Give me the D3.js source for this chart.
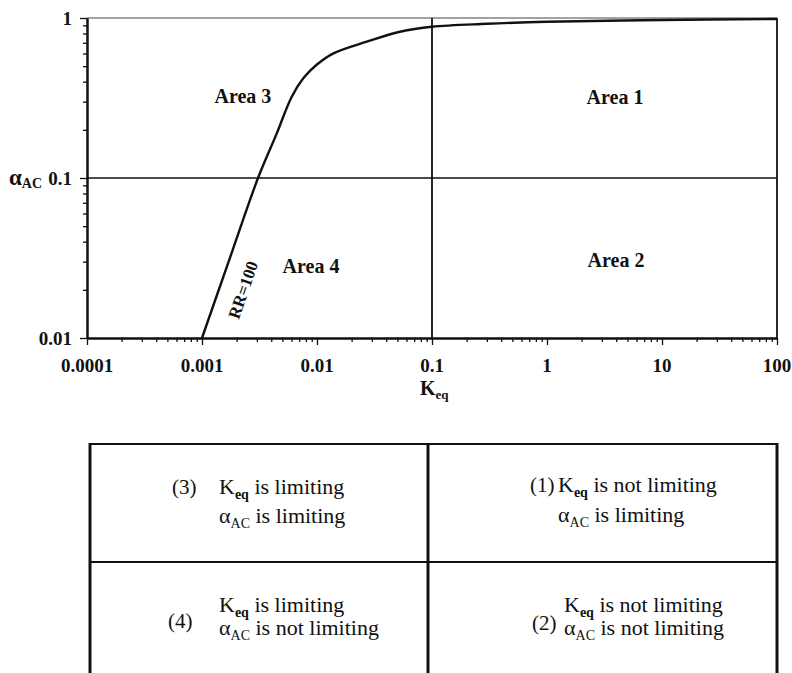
<!DOCTYPE html>
<html>
<head>
<meta charset="utf-8">
<script src="https://cdn.jsdelivr.net/npm/d3@7/dist/d3.min.js"></script>
<style>
  html, body { margin: 0; padding: 0; background: #fff; }
  svg { display: block; }
  text { font-family: "Liberation Serif", "Times New Roman", serif; fill: #111; }
</style>
</head>
<body>
<svg id="chart" width="792" height="673"></svg>
<script>
// RR = 100 boundary: equilibrium constant vs. relative volatility alpha_AC
const curveK = [0.001, 0.00175, 0.00307, 0.00447, 0.0060, 0.0076, 0.00993, 0.0139, 0.0271, 0.0527, 0.1, 0.3, 1, 10, 100];
const curveAlpha = [0.01, 0.0317, 0.1, 0.19, 0.32, 0.42, 0.51, 0.601, 0.711, 0.821, 0.882, 0.92, 0.948, 0.972, 0.985];

// axis ticks
const xMajor = [0.0001, 0.001, 0.01, 0.1, 1, 10, 100];
const xMajorLabels = ["0.0001", "0.001", "0.01", "0.1", "1", "10", "100"];
const yMajor = [0.01, 0.1, 1];
const yMajorLabels = ["0.01", "0.1", "1"];

// dividing lines between the four areas
const kSplit = 0.1;
const alphaSplit = 0.1;

// area labels, placed in data coordinates (baseline)
const areaNames = ["Area 3", "Area 1", "Area 4", "Area 2"];
const areaK = [0.00227, 3.9, 0.00887, 3.98];
const areaAlpha = [0.294, 0.29, 0.0255, 0.0278];

// curve label position
const curveLabelK = 0.00227;
const curveLabelAlpha = 0.02;

// summary table (row-major: top-left, top-right, bottom-left, bottom-right)
const cellNums = ["(3)", "(1)", "(4)", "(2)"];
const cellKeq = ["is limiting", "is not limiting", "is limiting", "is not limiting"];
const cellAlpha = ["is limiting", "is limiting", "is not limiting", "is not limiting"];

const svg = d3.select("#chart");

const x = d3.scaleLog().domain([1e-4, 100]).range([87, 777]);
const y = d3.scaleLog().domain([0.01, 1]).range([338, 18]);

// minor tick values (2..9 of each decade)
const minorX = [];
for (let e = -4; e < 2; e++) for (let m = 2; m <= 9; m++) minorX.push(m * Math.pow(10, e));
const minorY = [];
for (let e = -2; e < 0; e++) for (let m = 2; m <= 9; m++) minorY.push(m * Math.pow(10, e));

const plot = svg.append("g");

// frame: top and right border
plot.append("line").attr("x1", x(1e-4)).attr("x2", x(100)).attr("y1", y(1)).attr("y2", y(1))
  .attr("stroke", "#444").attr("stroke-width", 1.2);
plot.append("line").attr("x1", x(100)).attr("x2", x(100)).attr("y1", y(1)).attr("y2", y(0.01))
  .attr("stroke", "#111").attr("stroke-width", 1.8);

// dividing lines
plot.append("line").attr("x1", x(1e-4)).attr("x2", x(100)).attr("y1", y(alphaSplit)).attr("y2", y(alphaSplit))
  .attr("stroke", "#111").attr("stroke-width", 1.5);
plot.append("line").attr("x1", x(kSplit)).attr("x2", x(kSplit)).attr("y1", y(1)).attr("y2", y(0.01))
  .attr("stroke", "#111").attr("stroke-width", 1.8);

// axes
function styleAxis(g) {
  g.select(".domain").attr("stroke", "#111").attr("stroke-width", 2);
  g.selectAll(".tick line").attr("stroke", "#111").attr("stroke-width", 1.3);
  g.selectAll(".tick text").remove();
}
const xMinorG = plot.append("g").attr("transform", `translate(0,${y(0.01)})`)
  .call(d3.axisBottom(x).tickValues(minorX).tickSize(4).tickSizeOuter(0));
styleAxis(xMinorG);
const xMajorG = plot.append("g").attr("transform", `translate(0,${y(0.01)})`)
  .call(d3.axisBottom(x).tickValues(xMajor).tickSize(7).tickSizeOuter(0));
styleAxis(xMajorG);
const yMinorG = plot.append("g").attr("transform", `translate(${x(1e-4)},0)`)
  .call(d3.axisLeft(y).tickValues(minorY).tickSize(4).tickSizeOuter(0));
styleAxis(yMinorG);
const yMajorG = plot.append("g").attr("transform", `translate(${x(1e-4)},0)`)
  .call(d3.axisLeft(y).tickValues(yMajor).tickSize(7).tickSizeOuter(0));
styleAxis(yMajorG);

// tick labels
plot.selectAll(".xlab").data(xMajor).join("text")
  .attr("class", "xlab")
  .attr("x", d => x(d)).attr("y", y(0.01) + 34)
  .attr("text-anchor", "middle").attr("font-weight", "bold").attr("font-size", 19)
  .text((d, i) => xMajorLabels[i]);
plot.selectAll(".ylab").data(yMajor).join("text")
  .attr("class", "ylab")
  .attr("x", x(1e-4) - 15).attr("y", d => y(d) + 7)
  .attr("text-anchor", "end").attr("font-weight", "bold").attr("font-size", 19)
  .text((d, i) => yMajorLabels[i]);

// axis titles
const yTitle = plot.append("text").attr("x", 9).attr("y", y(0.1) + 7)
  .attr("font-weight", "bold").attr("font-size", 23);
yTitle.append("tspan").text("α");
yTitle.append("tspan").attr("font-size", 14).attr("dy", 3).text("AC");

const xTitle = plot.append("text").attr("x", x(kSplit) - 12).attr("y", y(0.01) + 57)
  .attr("font-weight", "bold").attr("font-size", 20);
xTitle.append("tspan").text("K");
xTitle.append("tspan").attr("font-size", 13).attr("dy", 4).text("eq");

// RR = 100 curve
const pts = curveK.map((k, i) => [k, curveAlpha[i]]);
plot.append("path").datum(pts)
  .attr("fill", "none").attr("stroke", "#111").attr("stroke-width", 2.4)
  .attr("d", d3.line().x(d => x(d[0])).y(d => y(d[1])).curve(d3.curveCatmullRom.alpha(0.5)));

// curve label, rotated along the steep part of the line
{
  const a = [x(curveK[0]), y(curveAlpha[0])];
  const b = [x(curveK[2]), y(curveAlpha[2])];
  const ang = Math.atan2(b[1] - a[1], b[0] - a[0]) * 180 / Math.PI;
  plot.append("text")
    .attr("transform", `translate(${x(curveLabelK)},${y(curveLabelAlpha)}) rotate(${ang})`)
    .attr("text-anchor", "middle").attr("font-weight", "bold")
    .attr("font-size", 17).attr("dy", "0.35em")
    .text("RR=100");
}

// area labels
plot.selectAll(".area").data(areaNames).join("text")
  .attr("class", "area")
  .attr("x", (d, i) => x(areaK[i])).attr("y", (d, i) => y(areaAlpha[i]))
  .attr("text-anchor", "middle").attr("font-weight", "bold").attr("font-size", 20)
  .text(d => d);

// summary table
const tab = svg.append("g");
const tLeft = 90, tMid = 428, tRight = 777, tTop = 444, tRow = 562, tBottom = 673;
const lineAttr = sel => sel.attr("stroke", "#111").attr("stroke-width", 2);
lineAttr(tab.append("line").attr("x1", tLeft).attr("x2", tRight).attr("y1", tTop).attr("y2", tTop));
lineAttr(tab.append("line").attr("x1", tLeft).attr("x2", tRight).attr("y1", tRow).attr("y2", tRow));
lineAttr(tab.append("line").attr("x1", tLeft).attr("x2", tLeft).attr("y1", tTop - 1).attr("y2", tBottom)).attr("stroke-width", 3);
lineAttr(tab.append("line").attr("x1", tMid).attr("x2", tMid).attr("y1", tTop - 1).attr("y2", tBottom)).attr("stroke-width", 3);
lineAttr(tab.append("line").attr("x1", tRight).attr("x2", tRight).attr("y1", tTop - 1).attr("y2", tBottom)).attr("stroke-width", 3);

// cell text positions
const numX = [172, 530, 168, 532];
const numY = [494, 492, 628, 630];
const txtX = [219, 558, 219, 564];
const line1Y = [494, 492, 612, 612];
const line2Y = [523, 522, 635, 635];

cellNums.forEach((n, i) => {
  tab.append("text").attr("x", numX[i]).attr("y", numY[i]).attr("font-size", 21).text(n);
  const t1 = tab.append("text").attr("x", txtX[i]).attr("y", line1Y[i]).attr("font-size", 22);
  t1.append("tspan").text("K");
  t1.append("tspan").attr("font-size", 14).attr("font-weight", "bold").attr("dy", 5).text("eq");
  t1.append("tspan").attr("dy", -5).text(" " + cellKeq[i]);
  const t2 = tab.append("text").attr("x", txtX[i]).attr("y", line2Y[i]).attr("font-size", 22);
  t2.append("tspan").text("α");
  t2.append("tspan").attr("font-size", 14).attr("dy", 5).text("AC");
  t2.append("tspan").attr("dy", -5).text(" " + cellAlpha[i]);
});
</script>
</body>
</html>
